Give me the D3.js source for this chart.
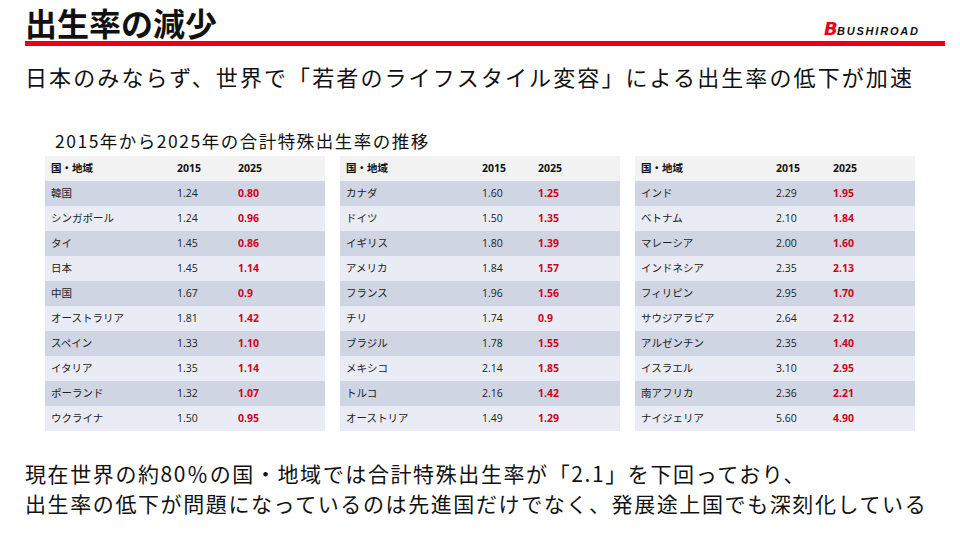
<!DOCTYPE html>
<html>
<head>
<meta charset="utf-8">
<script src="https://cdn.jsdelivr.net/npm/d3@7"></script>
<style>
  body { margin: 0; background: #fff; }
  svg { display: block; }
</style>
</head>
<body>
<div id="chart"></div>
<script>
// Datos de las tres tablas
const paises1 = ["韓国", "シンガポール", "タイ", "日本", "中国", "オーストラリア", "スペイン", "イタリア", "ポーランド", "ウクライナ"];
const tasas2015_1 = ["1.24", "1.24", "1.45", "1.45", "1.67", "1.81", "1.33", "1.35", "1.32", "1.50"];
const tasas2025_1 = ["0.80", "0.96", "0.86", "1.14", "0.9", "1.42", "1.10", "1.14", "1.07", "0.95"];

const paises2 = ["カナダ", "ドイツ", "イギリス", "アメリカ", "フランス", "チリ", "ブラジル", "メキシコ", "トルコ", "オーストリア"];
const tasas2015_2 = ["1.60", "1.50", "1.80", "1.84", "1.96", "1.74", "1.78", "2.14", "2.16", "1.49"];
const tasas2025_2 = ["1.25", "1.35", "1.39", "1.57", "1.56", "0.9", "1.55", "1.85", "1.42", "1.29"];

const paises3 = ["インド", "ベトナム", "マレーシア", "インドネシア", "フィリピン", "サウジアラビア", "アルゼンチン", "イスラエル", "南アフリカ", "ナイジェリア"];
const tasas2015_3 = ["2.29", "2.10", "2.00", "2.35", "2.95", "2.64", "2.35", "3.10", "2.36", "5.60"];
const tasas2025_3 = ["1.95", "1.84", "1.60", "2.13", "1.70", "2.12", "1.40", "2.95", "2.21", "4.90"];

const encabezados = ["国・地域", "2015", "2025"];

const titulo = "出生率の減少";
const subtitulo = "日本のみならず、世界で「若者のライフスタイル変容」による出生率の低下が加速";
const leyenda = "2015年から2025年の合計特殊出生率の推移";
const notas = [
  "現在世界の約80％の国・地域では合計特殊出生率が「2.1」を下回っており、",
  "出生率の低下が問題になっているのは先進国だけでなく、発展途上国でも深刻化している"
];

const W = 960, H = 540;
const fuenteJP = "'Noto Sans CJK JP', 'Noto Sans', sans-serif";
const fuenteTabla = "'Open Sans', 'Noto Sans CJK JP', sans-serif";

const svg = d3.select("#chart")
  .append("svg")
  .attr("width", W)
  .attr("height", H)
  .attr("viewBox", [0, 0, W, H]);

// Título y línea roja
svg.append("text")
  .attr("x", 25).attr("y", 36)
  .attr("font-family", fuenteJP)
  .attr("font-weight", 700)
  .attr("font-size", 32)
  .attr("fill", "#111")
  .text(titulo);

svg.append("rect")
  .attr("x", 25).attr("y", 41)
  .attr("width", 920).attr("height", 5)
  .attr("fill", "#e60012");

// Logo
const logo = svg.append("g").attr("transform", "translate(824,35)");
logo.append("text")
  .attr("font-family", "'DejaVu Sans', sans-serif")
  .attr("font-weight", 700).attr("font-style", "italic")
  .attr("font-size", 18).attr("fill", "#e60012")
  .text("B");
logo.append("text")
  .attr("x", 13)
  .attr("font-family", "'Liberation Sans', sans-serif")
  .attr("font-weight", 700).attr("font-style", "italic")
  .attr("font-size", 11).attr("fill", "#111")
  .attr("textLength", 81)
  .text("BUSHIROAD");

// Subtítulo
svg.append("text")
  .attr("x", 25).attr("y", 86)
  .attr("font-family", fuenteJP)
  .attr("font-size", 22)
  .attr("letter-spacing", 2.1)
  .attr("fill", "#111")
  .text(subtitulo);

svg.append("text")
  .attr("x", 55).attr("y", 148)
  .attr("font-family", fuenteJP)
  .attr("font-size", 17.5)
  .attr("letter-spacing", 1.5)
  .attr("fill", "#111")
  .text(leyenda);

// Tablas
const tablas = [
  { x0: 45, paises: paises1, v15: tasas2015_1, v25: tasas2025_1, cols: [6, 132, 193] },
  { x0: 340, paises: paises2, v15: tasas2015_2, v25: tasas2025_2, cols: [6, 142, 198] },
  { x0: 635, paises: paises3, v15: tasas2015_3, v25: tasas2025_3, cols: [6, 141, 198] }
];
const anchoTabla = 280;

// Escala de filas: encabezado + 10 filas
const filas = d3.range(11);
const y = d3.scaleBand().domain(filas).range([156, 431]).paddingInner(0);

tablas.forEach(t => {
  const g = svg.append("g").attr("transform", `translate(${t.x0},0)`);
  const x = d3.scaleOrdinal().domain(encabezados).range(t.cols);

  g.selectAll("rect.fila")
    .data(filas)
    .join("rect")
    .attr("class", "fila")
    .attr("x", 0)
    .attr("y", d => y(d))
    .attr("width", anchoTabla)
    .attr("height", y.bandwidth())
    .attr("fill", d => d === 0 ? "#f2f2f2" : (d % 2 === 1 ? "#cfd5e3" : "#e9ecf4"));

  // Encabezado
  g.selectAll("text.enc")
    .data(encabezados)
    .join("text")
    .attr("class", "enc")
    .attr("x", d => x(d))
    .attr("y", y(0) + y.bandwidth() / 2)
    .attr("dy", "0.35em")
    .attr("font-family", fuenteTabla)
    .attr("font-weight", 700)
    .attr("font-size", 10.5)
    .attr("fill", "#111")
    .text(d => d);

  const datos = t.paises.map((p, i) => ({ fila: i + 1, pais: p, v15: t.v15[i], v25: t.v25[i] }));

  g.selectAll("text.pais")
    .data(datos)
    .join("text")
    .attr("class", "pais")
    .attr("x", x("国・地域"))
    .attr("y", d => y(d.fila) + y.bandwidth() / 2)
    .attr("dy", "0.35em")
    .attr("font-family", fuenteJP)
    .attr("font-size", 10.5)
    .attr("fill", "#222")
    .text(d => d.pais);

  g.selectAll("text.v15")
    .data(datos)
    .join("text")
    .attr("class", "v15")
    .attr("x", x("2015"))
    .attr("y", d => y(d.fila) + y.bandwidth() / 2)
    .attr("dy", "0.35em")
    .attr("font-family", fuenteTabla)
    .attr("font-size", 10.5)
    .attr("fill", "#222")
    .text(d => d.v15);

  g.selectAll("text.v25")
    .data(datos)
    .join("text")
    .attr("class", "v25")
    .attr("x", x("2025"))
    .attr("y", d => y(d.fila) + y.bandwidth() / 2)
    .attr("dy", "0.35em")
    .attr("font-family", fuenteTabla)
    .attr("font-weight", 700)
    .attr("font-size", 10.5)
    .attr("fill", "#d0021b")
    .text(d => d.v25);
});

// Notas al pie
svg.selectAll("text.nota")
  .data(notas)
  .join("text")
  .attr("class", "nota")
  .attr("x", 25)
  .attr("y", (d, i) => 482 + i * 30)
  .attr("font-family", fuenteJP)
  .attr("font-size", 21)
  .attr("letter-spacing", 1.6)
  .attr("fill", "#111")
  .text(d => d);
</script>
</body>
</html>
